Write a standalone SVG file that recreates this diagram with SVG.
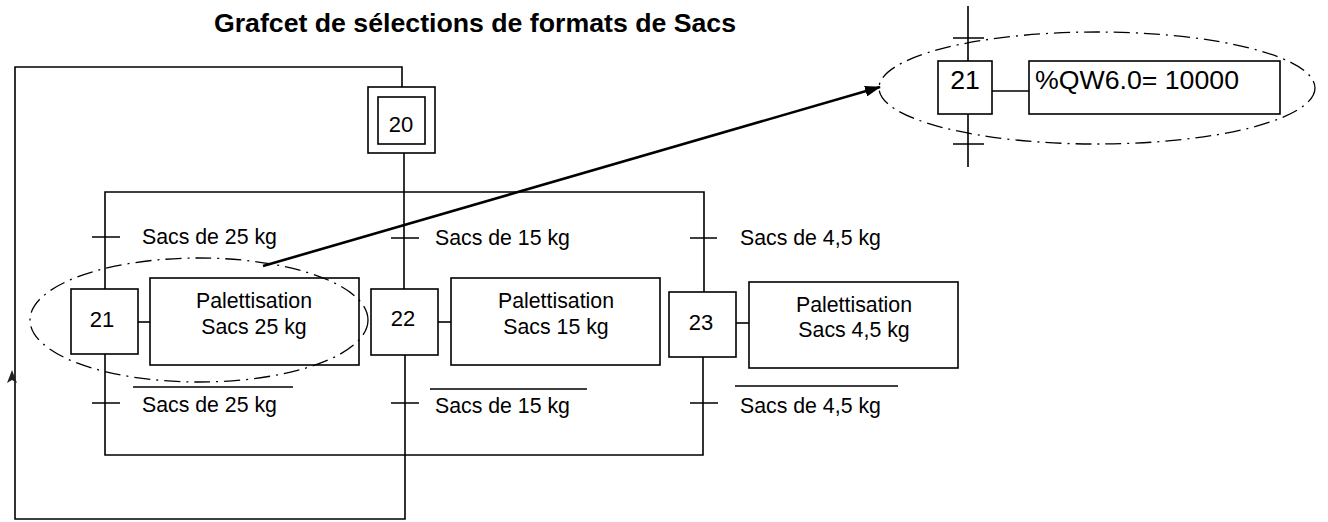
<svg xmlns="http://www.w3.org/2000/svg" width="1328" height="522" viewBox="0 0 1328 522">
<style>
  .ln{stroke:#000;stroke-width:1.6;fill:none}
  .bx{stroke:#000;stroke-width:1.6;fill:#fff}
  .dd{stroke:#000;stroke-width:1.3;fill:none;stroke-dasharray:16 6 2 6}
  .t{font-family:"Liberation Sans",Arial,sans-serif;font-size:21.3px;fill:#000}
  .n{font-family:"Liberation Sans",Arial,sans-serif;font-size:22px;fill:#000;text-anchor:middle}
  .big{font-family:"Liberation Sans",Arial,sans-serif;font-size:26.7px;fill:#000}
  .ti{font-family:"Liberation Sans",Arial,sans-serif;font-size:26.7px;font-weight:bold;fill:#000;text-anchor:middle}
  .c{text-anchor:middle}
</style>
<defs>
  <marker id="ah" markerWidth="16" markerHeight="11" refX="15" refY="5.5" orient="auto" markerUnits="userSpaceOnUse" viewBox="0 0 16 11">
    <path d="M0,0 L16,5.5 L0,11 Z" fill="#000"/>
  </marker>
</defs>
<rect width="1328" height="522" fill="#fff"/>
<text class="ti" x="475" y="32">Grafcet de sélections de formats de Sacs</text>

<g id="connectors">
  <path class="ln" d="M402,87 V67 H15 V519 H405 V354"/>
  <path d="M12,370 L7,383 L12,380 L17,383 Z" fill="#222"/>
  <path class="ln" d="M404,153 V289"/>
  <path class="ln" d="M105,289 V192 H704 V292"/>
  <path class="ln" d="M105,354 V455 H703 V357"/>
  <path class="ln" d="M138,322 H150"/>
  <path class="ln" d="M438,322 H451"/>
  <path class="ln" d="M736,323 H749"/>
  <path class="ln" d="M92,237 H120 M391,238 H419 M690,238 H717"/>
  <path class="ln" d="M92,403 H120 M391,403 H419 M690,403 H718"/>
  <path class="ln" d="M133,387 H293 M430,389 H587 M735,386 H898"/>
  <path class="ln" d="M968,6 V61 M968,114 V167 M953,38 H984 M953,144 H984 M992,91 H1029"/>
  <line x1="263" y1="266" x2="880" y2="87" stroke="#000" stroke-width="2.6" marker-end="url(#ah)"/>
</g>

<text class="t" x="142" y="244">Sacs de 25 kg</text>
<text class="t" x="435" y="245">Sacs de 15 kg</text>
<text class="t" x="740" y="245">Sacs de 4,5 kg</text>
<text class="t" x="142" y="412">Sacs de 25 kg</text>
<text class="t" x="435" y="413">Sacs de 15 kg</text>
<text class="t" x="740" y="413">Sacs de 4,5 kg</text>

<g id="step20">
  <rect class="bx" x="368" y="87" width="67" height="66"/>
  <rect class="bx" x="378" y="97" width="47" height="47"/>
  <text class="n" x="401" y="132">20</text>
</g>
<g id="step21">
  <rect class="bx" x="71" y="289" width="67" height="65"/>
  <text class="n" x="102" y="327">21</text>
</g>
<g id="action21">
  <rect class="bx" x="150" y="278" width="209" height="87"/>
  <text class="t c" x="254" y="308">Palettisation</text>
  <text class="t c" x="254" y="334">Sacs 25 kg</text>
</g>
<g id="step22">
  <rect class="bx" x="371" y="289" width="67" height="66"/>
  <text class="n" x="403" y="326">22</text>
</g>
<g id="action22">
  <rect class="bx" x="451" y="278" width="209" height="87"/>
  <text class="t c" x="556" y="308">Palettisation</text>
  <text class="t c" x="556" y="334">Sacs 15 kg</text>
</g>
<g id="step23">
  <rect class="bx" x="669" y="292" width="67" height="65"/>
  <text class="n" x="701" y="330">23</text>
</g>
<g id="action23">
  <rect class="bx" x="749" y="282" width="209" height="86"/>
  <text class="t c" x="854" y="312">Palettisation</text>
  <text class="t c" x="854" y="337">Sacs 4,5 kg</text>
</g>
<g id="detail21">
  <rect class="bx" x="938" y="61" width="54" height="53"/>
  <text class="big c" x="965" y="89">21</text>
</g>
<g id="detailAction">
  <rect class="bx" x="1029" y="61" width="251" height="53"/>
  <text class="big" x="1035" y="89">%QW6.0= 10000</text>
</g>
<g id="highlights">
  <ellipse class="dd" cx="199" cy="320" rx="169" ry="62"/>
  <ellipse class="dd" cx="1097" cy="88" rx="218" ry="56"/>
</g>
</svg>
